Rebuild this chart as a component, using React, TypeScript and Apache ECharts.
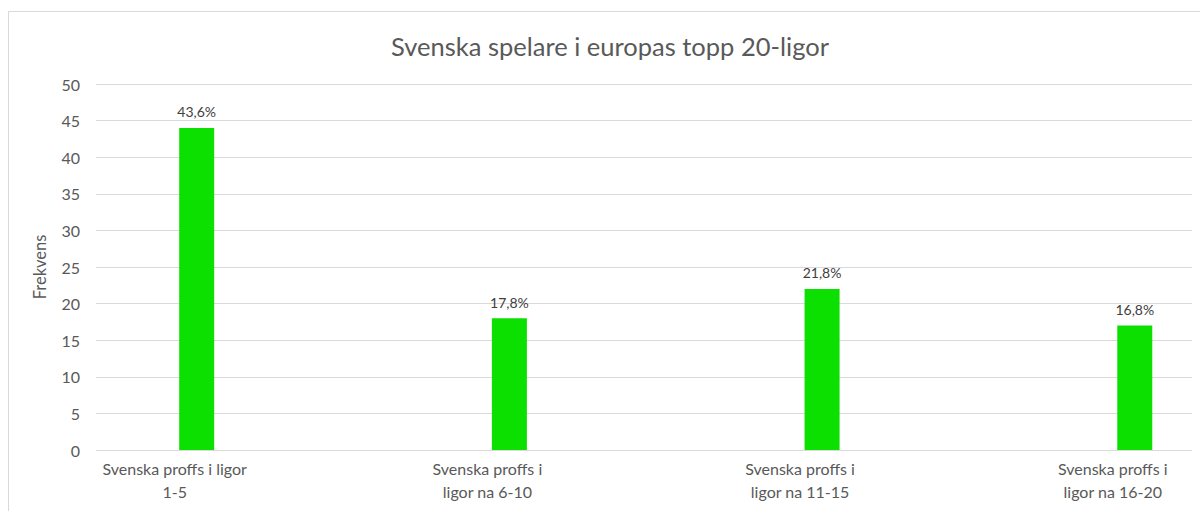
import React, { useEffect, useRef } from "react";
import * as echarts from "echarts";

const titleText = "Svenska spelare i europas topp 20-ligor";
const categories = [
  "Svenska proffs i ligor\n1-5",
  "Svenska proffs i\nligor na 6-10",
  "Svenska proffs i\nligor na 11-15",
  "Svenska proffs i\nligor na 16-20",
];
const frequencies = [44, 18, 22, 17];
const yAxisName = "Frekvens";
const yMin = 0;
const yMax = 50;
const yStep = 5;

const total = frequencies.reduce((a, b) => a + b, 0);
const pct = (v: number) => ((v / total) * 100).toFixed(1).replace(".", ",") + "%";
const catIndex = categories.map((_, i) => i);
const barData = frequencies.map((v, i) => [i, v]);

const FONT = "Lato, 'Noto Sans', sans-serif";
const TEXT = "#595959";
const GRID = "#d9d9d9";

export default function App() {
  const ref = useRef<HTMLDivElement>(null);
  useEffect(() => {
    if (!ref.current) return;
    const chart = echarts.init(ref.current, undefined, { renderer: "svg" });
    chart.setOption({
      animation: false,
      backgroundColor: "#ffffff",
      textStyle: { fontFamily: FONT },
      title: {
        text: titleText,
        left: 605,
        textAlign: "center",
        top: 28,
        textStyle: { fontFamily: FONT, fontSize: 25.5, fontWeight: "normal", color: TEXT },
      },
      graphic: [
        { type: "line", shape: { x1: 8, y1: 11.5, x2: 1200, y2: 11.5 }, style: { stroke: GRID, lineWidth: 1 } },
        { type: "line", shape: { x1: 8.5, y1: 11, x2: 8.5, y2: 511 }, style: { stroke: GRID, lineWidth: 1 } },
      ],
      grid: { left: 96, right: 8, top: 84, bottom: 61, containLabel: false, outerBoundsMode: "none" },
      xAxis: {
        type: "value",
        min: -0.322,
        max: 3.183,
        axisLine: { show: false },
        axisTick: { show: false },
        splitLine: { show: false },
        axisLabel: {
          customValues: catIndex,
          formatter: (v: number) => categories[Math.round(v)] ?? "",
          color: TEXT,
          fontFamily: FONT,
          fontSize: 16,
          lineHeight: 23,
          margin: 7,
          padding: [0, 44, 0, 0],
          showMinLabel: true,
          showMaxLabel: true,
          hideOverlap: false,
        },
      },
      yAxis: {
        type: "value",
        min: yMin,
        max: yMax,
        interval: yStep,
        name: yAxisName,
        nameLocation: "middle",
        nameGap: 48,
        nameTextStyle: { color: TEXT, fontFamily: FONT, fontSize: 16.5 },
        axisLine: { show: false },
        axisTick: { show: false },
        axisLabel: { color: TEXT, fontFamily: FONT, fontSize: 16, margin: 16 },
        splitLine: { show: true, lineStyle: { color: GRID, width: 1 } },
      },
      series: [
        {
          type: "bar",
          data: barData,
          barWidth: 35,
          itemStyle: { color: "#0be000" },
          label: {
            show: true,
            position: "top",
            distance: 9,
            color: "#404040",
            fontFamily: FONT,
            fontSize: 14,
            formatter: (p: any) => pct(p.value[1]),
          },
        },
      ],
    });
    return () => chart.dispose();
  }, []);
  return (
    <div
      ref={ref}
      style={{ position: "absolute", left: 0, top: 0, width: 1200, height: 511 }}
    />
  );
}
